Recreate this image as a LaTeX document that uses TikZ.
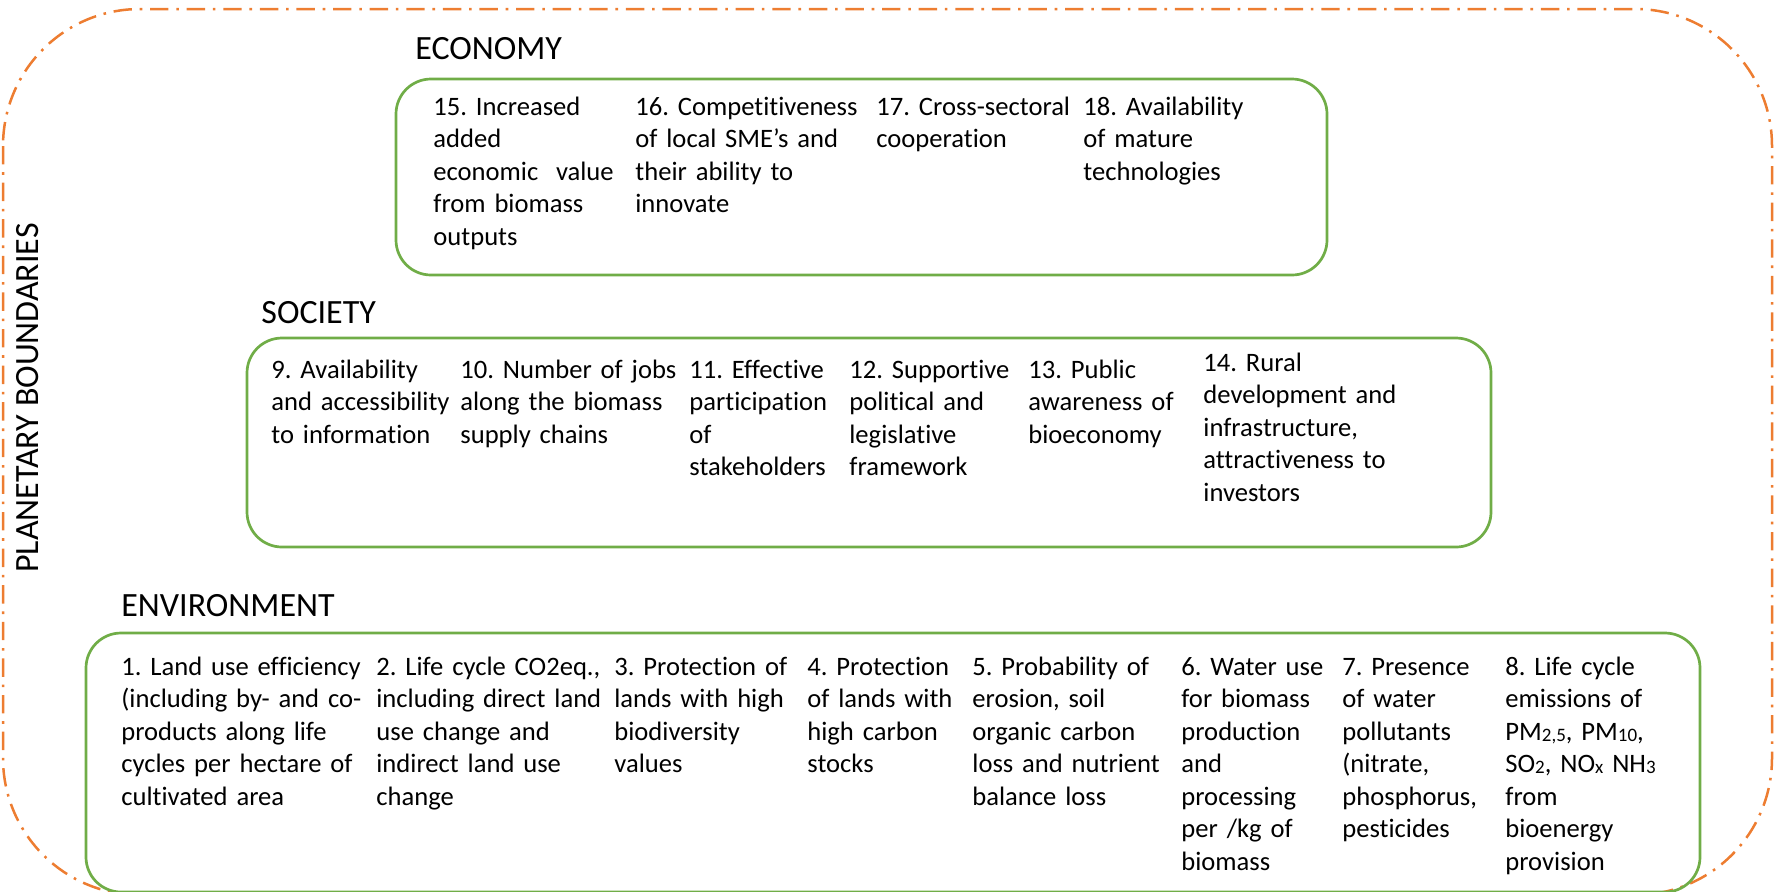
\documentclass[tikz,border=0pt]{standalone}
\usepackage{fontspec}
\setmainfont{Carlito}[Ligatures=NoCommon]
\frenchspacing
\definecolor{pborange}{HTML}{ED7D31}
\definecolor{pbgreen}{HTML}{70AD47}
\newcommand{\sbs}[1]{\raisebox{-0.6pt}{\fontsize{9.5}{9.5}\selectfont #1}}
\tikzset{
  item/.style={anchor=base west, inner sep=0pt, text width=160pt, align=left,
    font=\fontsize{13.3}{16.25}\selectfont},
  seclabel/.style={anchor=base west, inner sep=0pt, font=\fontsize{17}{20}\selectfont},
  greenbox/.style={draw=pbgreen, line width=1.35pt, rounded corners=17.5pt},
  boundary/.style={draw=pborange, line width=1.25pt, rounded corners=68.5pt,
    dash pattern=on 9.2pt off 3.9pt on 1.3pt off 3.9pt},
}
\begin{document}
\begin{tikzpicture}[x=0.5pt,y=-0.5pt]
\useasboundingbox (0,0) rectangle (1779,891);
% planetary boundary
\draw[boundary] (3,9) rectangle (1772,895);
\node[rotate=90, inner sep=0pt, font=\fontsize{17}{20}\selectfont] (pb) at (27.5,398) {PLANETARY BOUNDARIES};
% boxes
\draw[greenbox] (396,79) rectangle (1327,275);
\draw[greenbox] (247,338) rectangle (1491,547);
\draw[greenbox] (86,633) rectangle (1700,892);
% labels
\node[seclabel] (econ) at (415,59) {ECONOMY};
\node[seclabel] (soc) at (261,323) {SOCIETY};
\node[seclabel] (env) at (121,616) {ENVIRONMENT};
% economy
\node[item] (e15) at (433,115) {15. Increased\\added\\economic\ \ value\\from biomass\\outputs};
\node[item] (e16) at (635,115) {16. Competitiveness\\of local SME’s and\\their ability to\\innovate};
\node[item] (e17) at (876,115) {17. Cross-sectoral\\cooperation};
\node[item] (e18) at (1083,115) {18. Availability\\of mature\\technologies};
% society
\node[item] (s9) at (271,378) {9. Availability\\and accessibility\\to information};
\node[item] (s10) at (460,378) {10. Number of jobs\\along the biomass\\supply chains};
\node[item] (s11) at (689,378) {11. Effective\\participation\\of\\stakeholders};
\node[item] (s12) at (849,378) {12. Supportive\\political and\\legislative\\framework};
\node[item] (s13) at (1028,378) {13. Public\\awareness of\\bioeconomy};
\node[item] (s14) at (1203,371) {14. Rural\\development and\\infrastructure,\\attractiveness to\\investors};
% environment
\node[item] (n1) at (121,675) {1. Land use efficiency\\(including by- and co-\\products along life\\cycles per hectare of\\cultivated area};
\node[item] (n2) at (376,675) {2. Life cycle CO2eq.,\\including direct land\\use change and\\indirect land use\\change};
\node[item] (n3) at (614,675) {3. Protection of\\lands with high\\biodiversity\\values};
\node[item] (n4) at (807,675) {4. Protection\\of lands with\\high carbon\\stocks};
\node[item] (n5) at (972,675) {5. Probability of\\erosion, soil\\organic carbon\\loss and nutrient\\balance loss};
\node[item] (n6) at (1181,675) {6. Water use\\for biomass\\production\\and\\processing\\per /kg of\\biomass};
\node[item] (n7) at (1342,675) {7. Presence\\of water\\pollutants\\(nitrate,\\phosphorus,\\pesticides};
\node[item] (n8) at (1505,675) {8. Life cycle\\emissions of\\PM\sbs{2,5}, PM\sbs{10},\\SO\sbs{2}, NO\sbs{x} NH\sbs{3}\\from\\bioenergy\\provision};
\end{tikzpicture}
\end{document}
